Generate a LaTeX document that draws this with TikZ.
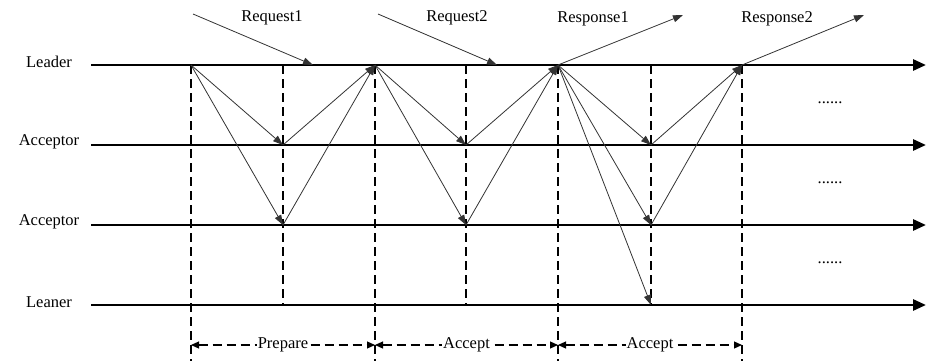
\documentclass[tikz,border=0pt]{standalone}
\usepackage{fontspec}
\setmainfont{Liberation Serif}
\usetikzlibrary{arrows.meta}
\begin{document}
\begin{tikzpicture}[x=1pt,y=-1pt,
  font=\fontsize{16.5}{19}\selectfont,
  lifeline/.style={line width=2.8pt,-{Triangle[length=13pt,width=11pt]}},
  msg/.style={line width=0.8pt,draw=black!80,-{Triangle[length=10pt,width=7pt]}},
  phase/.style={line width=1.1pt,dash pattern=on 9pt off 5pt},
  span/.style={line width=1.1pt,dash pattern=on 9pt off 5pt,
    {Triangle[length=8pt,width=7pt]}-{Triangle[length=8pt,width=7pt]}},
  role/.style={anchor=center,inner sep=0pt},
  phaselabel/.style={fill=white,inner sep=1pt},
  more/.style={inner sep=0pt}]
\useasboundingbox (0,0) rectangle (936,361);

% role labels
\node[role] (tLeader) at (49,62) {Leader};
\node[role] (tAcc1) at (49,142) {Acceptor};
\node[role] (tAcc2) at (49,222) {Acceptor};
\node[role] (tLeaner) at (49,302) {Leaner};

% lifeline ends
\coordinate (ls0) at (91,65);   \coordinate (le0) at (926,65);
\coordinate (ls1) at (91,145);  \coordinate (le1) at (926,145);
\coordinate (ls2) at (91,225);  \coordinate (le2) at (926,225);
\coordinate (ls3) at (91,305);  \coordinate (le3) at (926,305);

% events on the lifelines
\foreach \n/\x in {a/191,b/283,c/375,d/466,e/558,f/651,g/742}{
  \coordinate (\n0) at (\x,65);
  \coordinate (\n1) at (\x,145);
  \coordinate (\n2) at (\x,225);
  \coordinate (\n3) at (\x,305);
  \coordinate (\n4) at (\x,361);
}

% phase boundaries
\foreach \n in {a,c,e,g}{ \draw[phase] (\n0) -- (\n4); }
\foreach \n in {b,d,f}{ \draw[phase] (\n0) -- (\n3); }

% lifelines
\draw[lifeline] (ls0) -- (le0);
\draw[lifeline] (ls1) -- (le1);
\draw[lifeline] (ls2) -- (le2);
\draw[lifeline] (ls3) -- (le3);

% client requests and responses
\coordinate (rq1) at (193,14);  \coordinate (rq1e) at (313,65);
\coordinate (rq2) at (378,14);  \coordinate (rq2e) at (497,65);
\coordinate (rs1) at (683,15);
\coordinate (rs2) at (864,15);
\draw[msg] (rq1) -- (rq1e);
\draw[msg] (rq2) -- (rq2e);
\draw[msg] (e0) -- (rs1);
\draw[msg] (g0) -- (rs2);
\node (lrq1) at (272,18) {Request1};
\node (lrq2) at (457,18) {Request2};
\node (lrs1) at (593,19) {Response1};
\node (lrs2) at (777,19) {Response2};

% prepare phase
\draw[msg] (a0) -- (b1);
\draw[msg] (a0) -- (b2);
\draw[msg] (b1) -- (c0);
\draw[msg] (b2) -- (c0);

% first accept phase
\draw[msg] (c0) -- (d1);
\draw[msg] (c0) -- (d2);
\draw[msg] (d1) -- (e0);
\draw[msg] (d2) -- (e0);

% second accept phase
\draw[msg] (e0) -- (f1);
\draw[msg] (e0) -- (f2);
\draw[msg] (e0) -- (f3);
\draw[msg] (f1) -- (g0);
\draw[msg] (f2) -- (g0);

% continuation marks
\node[more] (m1) at (830,103) {......};
\node[more] (m2) at (830,183) {......};
\node[more] (m3) at (830,263) {......};

% phase spans
\coordinate (pa) at (191,345); \coordinate (pc) at (375,345);
\coordinate (pe) at (558,345); \coordinate (pg) at (742,345);
\draw[span] (pa) -- (pc) node[phaselabel,midway] {Prepare};
\draw[span] (pc) -- (pe) node[phaselabel,midway] {Accept};
\draw[span] (pe) -- (pg) node[phaselabel,midway] {Accept};
\end{tikzpicture}
\end{document}
